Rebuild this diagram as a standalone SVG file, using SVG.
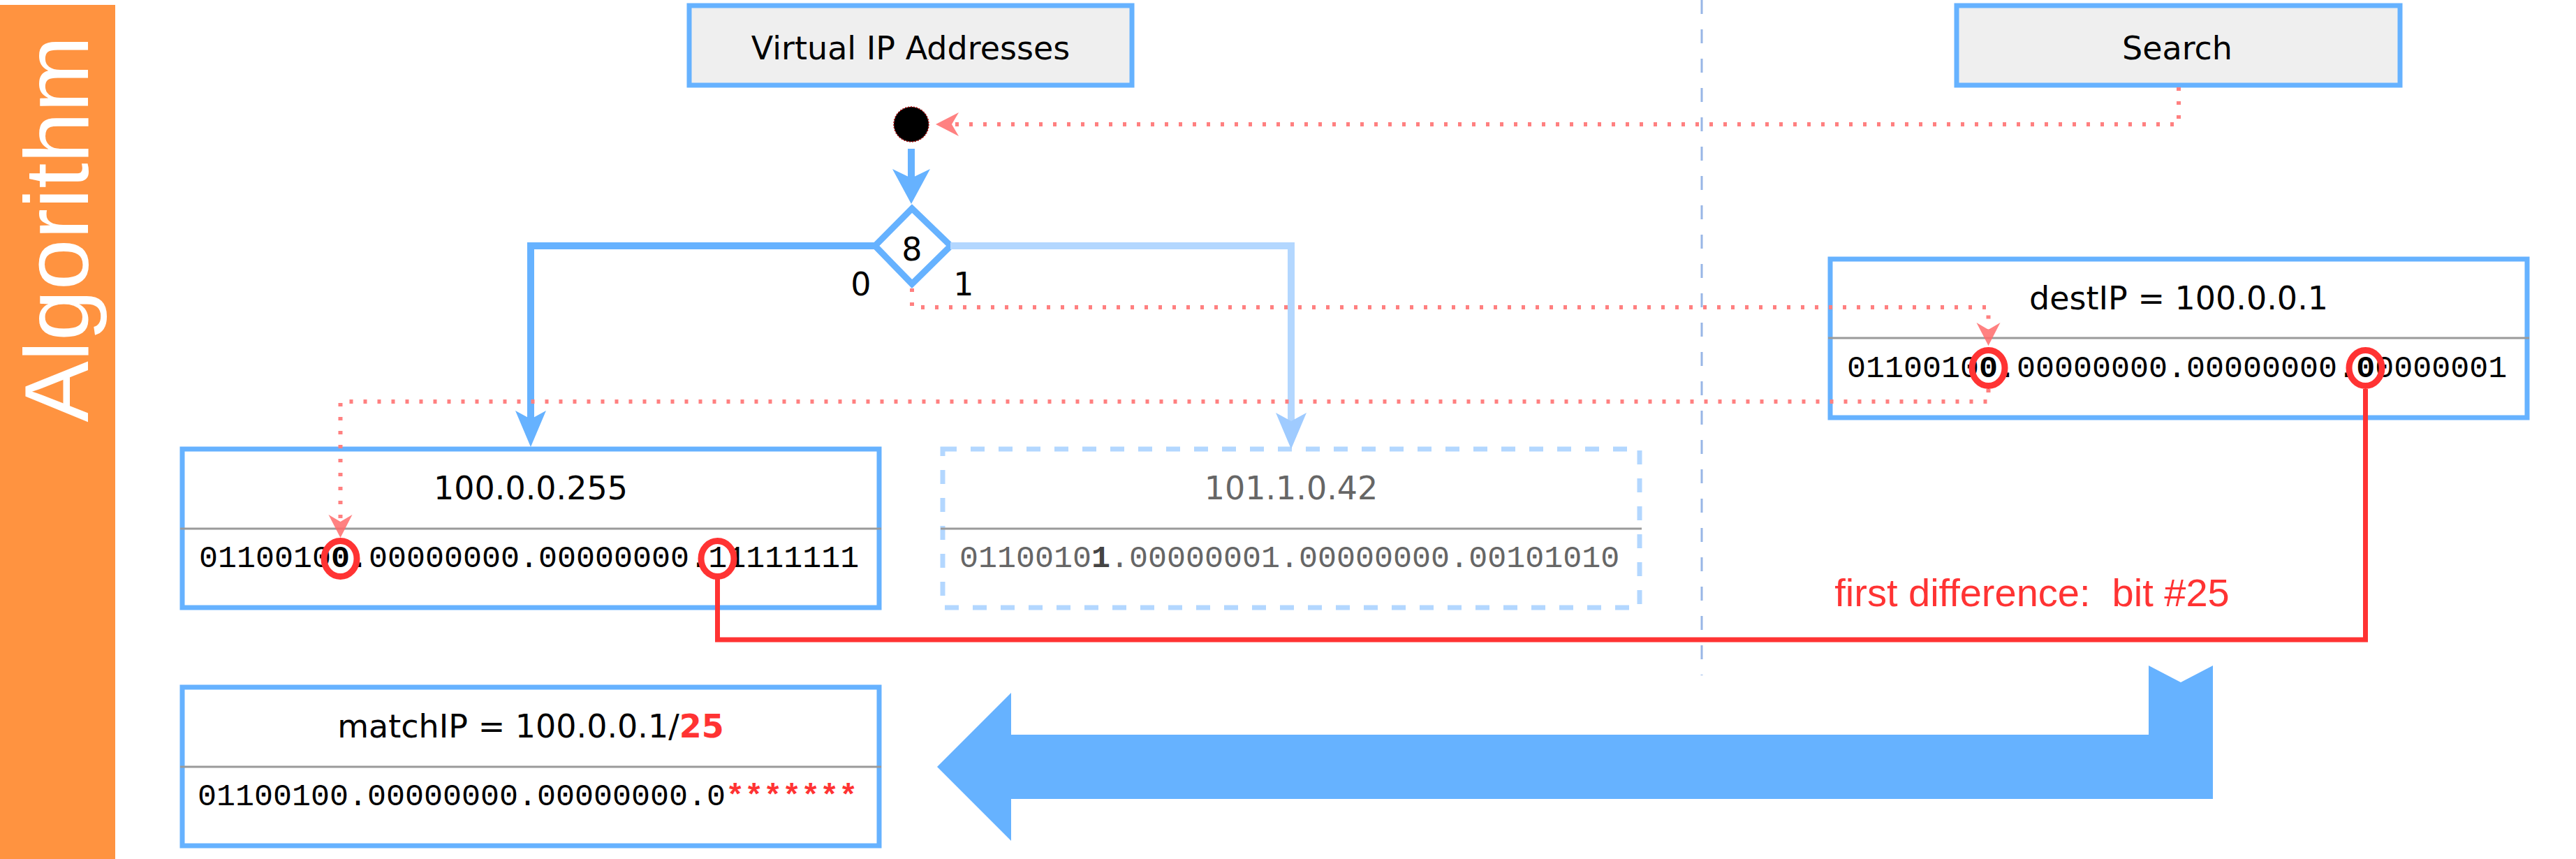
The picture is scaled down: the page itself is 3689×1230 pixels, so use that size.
<svg xmlns="http://www.w3.org/2000/svg" width="3689" height="1230" viewBox="0 0 3689 1230">
<style>
.title{font-family:"DejaVu Sans",Verdana,sans-serif;font-size:46px;text-anchor:middle;fill:#000}
.bin{font-family:"Liberation Mono","Courier New",monospace;font-size:45px;fill:#000}
.box{fill:#fff;stroke:#66b2ff;stroke-width:7}
.head{fill:#efefef;stroke:#66b2ff;stroke-width:7}
.sep{stroke:#9a9a9a;stroke-width:3}
.ring{fill:none;stroke:#ff3333;stroke-width:9}
.hl{fill:none;stroke:#ff3333;stroke-width:7}
.dotted{fill:none;stroke:#ff8080;stroke-width:6;stroke-dasharray:5 15}
.lbl{font-family:"DejaVu Sans",Verdana,sans-serif;font-size:46px;text-anchor:middle;fill:#000}
</style>
<defs>
<marker id="arrRed" markerUnits="userSpaceOnUse" markerWidth="40" markerHeight="40" refX="10" refY="17" orient="auto" overflow="visible">
<path d="M0,0 L33,17 L0,34 L10,17 Z" fill="#ff6b6b" fill-opacity="0.85"/>
</marker>
<marker id="arrBlue" markerUnits="userSpaceOnUse" markerWidth="60" markerHeight="60" refX="12" refY="22" orient="auto" overflow="visible">
<path d="M0,0 L52,22 L0,44 L12,22 Z" fill="#66b2ff"/>
</marker>
<marker id="arrBlueL" markerUnits="userSpaceOnUse" markerWidth="60" markerHeight="60" refX="13" refY="27" orient="auto" overflow="visible">
<path d="M0,0 L50,27 L0,54 L13,27 Z" fill="#66b2ff"/>
</marker>
<marker id="arrLight" markerUnits="userSpaceOnUse" markerWidth="60" markerHeight="60" refX="12" refY="22" orient="auto" overflow="visible">
<path d="M0,0 L52,22 L0,44 L12,22 Z" fill="#9fcbff"/>
</marker>
</defs>
<rect width="3689" height="1230" fill="#fff"/>

<g id="algorithm-band">
<rect x="0" y="7" width="165" height="1223" fill="#ff9340"/>
<text transform="translate(126,328) rotate(-90)" text-anchor="middle" font-family="Liberation Sans, Arial, sans-serif" font-size="130" fill="#fff" textLength="553" lengthAdjust="spacingAndGlyphs">Algorithm</text>
</g>

<g id="separator">
<line x1="2437" y1="0" x2="2437" y2="967" stroke="#98b6e6" stroke-width="3" stroke-dasharray="20 22"/>
</g>

<g id="vip-header">
<rect class="head" x="987" y="8" width="634" height="114"/>
<text class="title" x="1304" y="85">Virtual IP Addresses</text>
</g>

<g id="search-header">
<rect class="head" x="2802" y="8" width="635" height="114"/>
<text class="title" x="3118" y="85">Search</text>
</g>

<g id="big-arrow">
<path d="M1342,1098 L1448,992 L1448,1052 L3077,1052 L3077,953 L3123,977 L3169,953 L3169,1144 L1448,1144 L1448,1204 Z" fill="#66b2ff"/>
</g>

<g id="start-dot">
<circle cx="1305" cy="178" r="25" fill="#000" stroke="#a00" stroke-width="1.5" stroke-dasharray="2 2"/>
</g>

<g id="decision">
<path d="M1306,298.5 L1361.5,352 L1306,406.5 L1253,352 Z" fill="#fff" stroke="#66b2ff" stroke-width="9"/>
<text class="lbl" x="1306" y="373">8</text>
<text class="lbl" x="1233" y="423">0</text>
<text class="lbl" x="1380" y="423">1</text>
</g>

<g id="node-100-0-0-255">
<rect class="box" x="261" y="643" width="998" height="227"/>
<line class="sep" x1="258" y1="757" x2="1262" y2="757"/>
<text class="title" x="760" y="715">100.0.0.255</text>
<text class="bin" x="285" y="812">0110010<tspan font-weight="bold">0</tspan>.00000000.00000000.11111111</text>
</g>

<g id="node-101-1-0-42">
<rect x="1350" y="643" width="998" height="227" fill="#fff" stroke="#b3d7ff" stroke-width="7" stroke-dasharray="20 20"/>
<line class="sep" x1="1347" y1="757" x2="2351" y2="757"/>
<text class="title" x="1849" y="715" style="fill:#666">101.1.0.42</text>
<text class="bin" x="1374" y="812" style="fill:#666">0110010<tspan font-weight="bold" style="fill:#444">1</tspan>.00000001.00000000.00101010</text>
</g>

<g id="node-destip">
<rect class="box" x="2621" y="371" width="998" height="227"/>
<line class="sep" x1="2618" y1="484" x2="3622" y2="484"/>
<text class="title" x="3120" y="443">destIP = 100.0.0.1</text>
<text class="bin" x="2645" y="540">0110010<tspan font-weight="bold">0</tspan>.00000000.00000000.<tspan font-weight="bold">0</tspan>0000001</text>
</g>

<g id="node-matchip">
<rect class="box" x="261" y="984" width="998" height="227"/>
<line class="sep" x1="258" y1="1098" x2="1262" y2="1098"/>
<text class="title" x="760" y="1056">matchIP = 100.0.0.1/<tspan font-weight="bold" style="fill:#ff3333">25</tspan></text>
<text class="bin" x="283" y="1153">01100100.00000000.00000000.0<tspan font-weight="bold" style="fill:#ff3333">*******</tspan></text>
</g>

<g id="label-first-difference">
<text x="2910" y="868" text-anchor="middle" font-family="Liberation Sans, Arial, sans-serif" font-size="56" fill="#ff3333" xml:space="preserve">first difference:  bit #25</text>
</g>

<g id="connectors">
<path d="M1305,213 V255" fill="none" stroke="#66b2ff" stroke-width="10" marker-end="url(#arrBlueL)"/>
<path d="M1253,352 H760 V600" fill="none" stroke="#66b2ff" stroke-width="10" marker-end="url(#arrBlue)"/>
<path d="M1361,352 H1849 V603" fill="none" stroke="#b3d7ff" stroke-width="10" marker-end="url(#arrLight)"/>
<path class="dotted" d="M3120,125 V178 H1363" marker-end="url(#arrRed)"/>
<path class="dotted" d="M1306,413 V440 H2847.5 V472" marker-end="url(#arrRed)"/>
<path class="dotted" d="M2847.5,557 V575 H487.5 V747" marker-end="url(#arrRed)"/>
<path class="hl" d="M1027.5,829 V916 H3387.5 V557"/>
</g>

<g id="highlights">
<ellipse class="ring" cx="487.5" cy="800" rx="23.5" ry="25.5"/>
<ellipse class="ring" cx="1027.5" cy="800" rx="23.5" ry="25.5"/>
<ellipse class="ring" cx="2847.5" cy="527" rx="23.5" ry="25.5"/>
<ellipse class="ring" cx="3387.5" cy="527" rx="23.5" ry="25.5"/>
</g>
</svg>
